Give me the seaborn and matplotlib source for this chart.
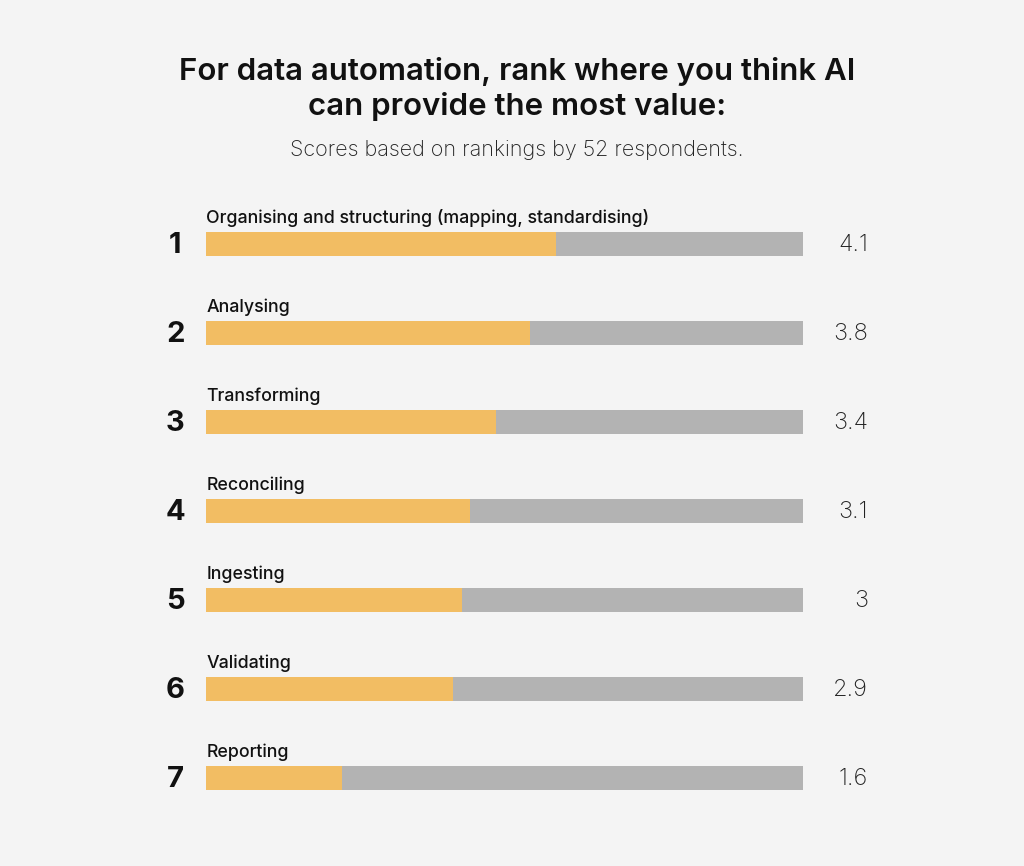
import matplotlib
matplotlib.use("Agg")
import matplotlib.pyplot as plt
import seaborn as sns
import pandas as pd

# =====================================================
# DATA
# =====================================================

tasks = [
    "Organising and structuring (mapping, standardising)",
    "Analysing",
    "Transforming",
    "Reconciling",
    "Ingesting",
    "Validating",
    "Reporting",
]
scores = [4.1, 3.8, 3.4, 3.1, 3.0, 2.9, 1.6]
score_labels = ["4.1", "3.8", "3.4", "3.1", "3", "2.9", "1.6"]
ranks = ["1", "2", "3", "4", "5", "6", "7"]
max_score = 7

df = pd.DataFrame({
    "task": tasks,
    "score": scores,
    "full": [max_score] * len(tasks),
})

# =====================================================
# STYLE
# =====================================================

bg = "#F4F4F4"
orange = "#F2BD63"
grey = "#B3B3B3"

sns.set_theme(style="white")
plt.rcParams["font.family"] = ["Inter", "DejaVu Sans"]

fig = plt.figure(figsize=(10.24, 8.66), dpi=100, facecolor=bg)
ax = fig.add_axes([206 / 1024, 1 - 822.5 / 866, 597 / 1024, 623 / 866])
ax.set_facecolor(bg)

# =====================================================
# BARS
# =====================================================

sns.barplot(data=df, x="full", y="task", color=grey, width=0.28,
            saturation=1, linewidth=0, ax=ax, orient="h")
sns.barplot(data=df, x="score", y="task", color=orange, width=0.28,
            saturation=1, linewidth=0, ax=ax, orient="h")

ax.set_xlim(0, max_score)
ax.set_ylim(len(tasks) - 0.5, -0.5)
ax.set_xlabel("")
ax.set_ylabel("")
ax.set_xticks([])
ax.set_yticks([])
for s in ax.spines.values():
    s.set_visible(False)

# =====================================================
# TEXT
# =====================================================

for i, (task, lab, rk) in enumerate(zip(tasks, score_labels, ranks)):
    ax.text(0.005, i - 0.29, task, ha="left", va="center",
            fontsize=12.8, fontweight="medium", color="#111111")
    ax.text(-0.36, i + 0.02, rk, ha="center", va="center",
            fontsize=21, fontweight="bold", color="#111111")
    ax.text(7.76, i + 0.01, lab, ha="right", va="center",
            fontsize=17, fontweight="light", color="#222222")

fig.text(0.505, 1 - 89 / 866,
         "For data automation, rank where you think AI\ncan provide the most value:",
         ha="center", va="center", fontsize=22.5, fontweight="semibold",
         color="#111111", linespacing=1.3)
fig.text(0.505, 1 - 150 / 866,
         "Scores based on rankings by 52 respondents.",
         ha="center", va="center", fontsize=15.5, fontweight="light",
         color="#222222")

fig.savefig("out.png", dpi=100, facecolor=bg)
